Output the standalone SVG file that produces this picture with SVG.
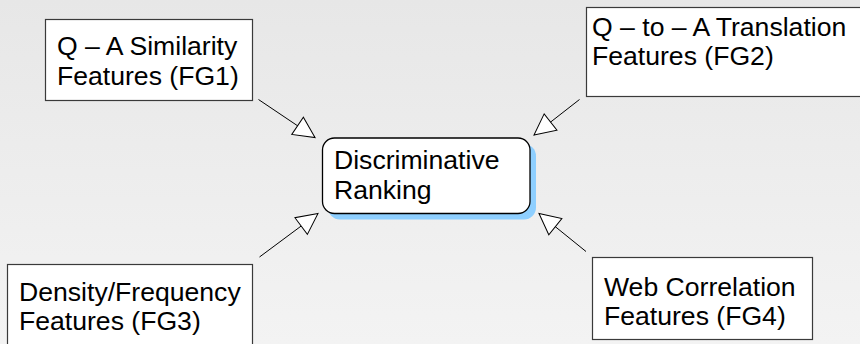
<svg xmlns="http://www.w3.org/2000/svg" width="860" height="344" viewBox="0 0 860 344">
<style>
.box{fill:#fff;stroke:#3a3a3a;stroke-width:1.2}
.t{font-family:"Liberation Sans",Arial,sans-serif;font-size:26.6px;fill:#000}
.con{stroke:#000;stroke-width:1;fill:none;marker-end:url(#arr)}
</style>
<defs>
<linearGradient id="bg" x1="0" y1="0" x2="0" y2="1">
<stop offset="0" stop-color="#e7e7e7"/>
<stop offset="1" stop-color="#f3f3f3"/>
</linearGradient>
<marker id="arr" markerUnits="userSpaceOnUse" markerWidth="26" markerHeight="26" viewBox="-23 -13 26 26" refX="0" refY="0" orient="auto">
<path d="M0,0 L-21,-10.4 L-21,10.4 Z" fill="#fff" stroke="#000" stroke-width="1"/>
</marker>
</defs>
<rect x="0" y="0" width="860" height="344" fill="url(#bg)"/>
<g id="fg1">
<rect class="box" x="45.5" y="19.5" width="207" height="81"/>
<text class="t" x="57" y="55">Q – A Similarity</text>
<text class="t" x="57" y="84.5">Features (FG1)</text>
</g>
<g id="fg2">
<rect class="box" x="586.5" y="7.5" width="290" height="89"/>
<text class="t" x="592" y="36">Q – to – A Translation</text>
<text class="t" x="592" y="64.5">Features (FG2)</text>
</g>
<g id="rank">
<rect x="328" y="144" width="208" height="75.5" rx="12" ry="12" fill="#8ecfff"/>
<rect x="322.5" y="138" width="207.5" height="75.5" rx="12" ry="12" fill="#fff" stroke="#000" stroke-width="1.3"/>
<text class="t" x="334" y="169">Discriminative</text>
<text class="t" x="334" y="199">Ranking</text>
</g>
<g id="fg3">
<rect class="box" x="7.5" y="264.5" width="245" height="90"/>
<text class="t" x="19" y="301">Density/Frequency</text>
<text class="t" x="19" y="330">Features (FG3)</text>
</g>
<g id="fg4">
<rect class="box" x="592.5" y="257.5" width="220" height="82"/>
<text class="t" x="604" y="296">Web Correlation</text>
<text class="t" x="604" y="325">Features (FG4)</text>
</g>
<g id="connectors">
<line class="con" x1="258.5" y1="99.5" x2="315" y2="137.5"/>
<line class="con" x1="579.5" y1="99.5" x2="534" y2="135"/>
<line class="con" x1="259.5" y1="257" x2="318" y2="213.5"/>
<line class="con" x1="586" y1="251.5" x2="539" y2="213.5"/>
</g>
</svg>
